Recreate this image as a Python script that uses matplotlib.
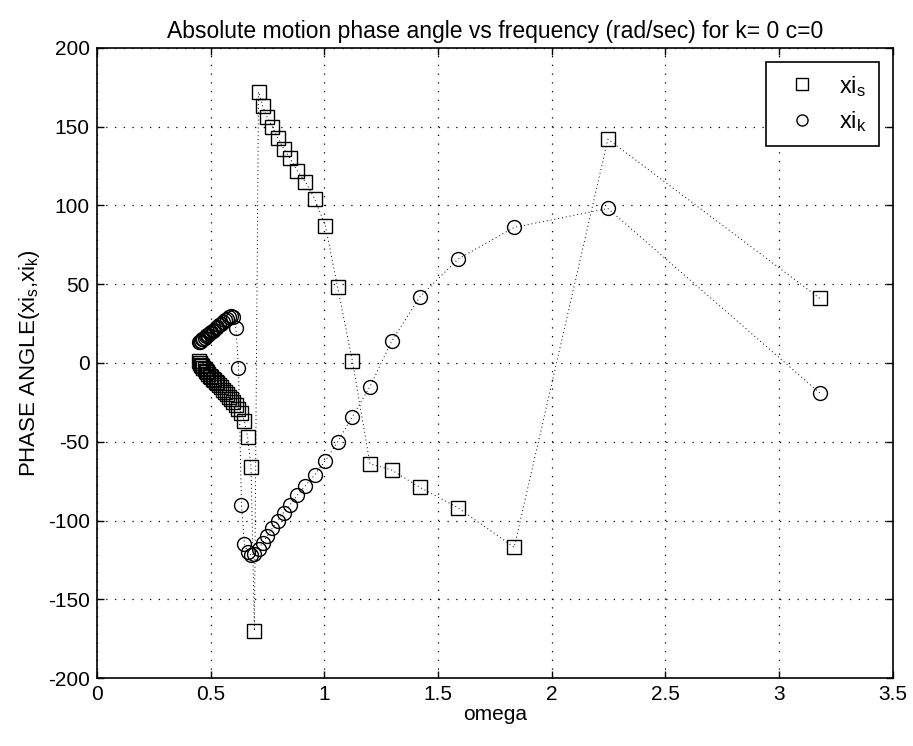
import matplotlib
matplotlib.use("Agg")
import matplotlib.pyplot as plt

plt.rcParams['font.family'] = ['Liberation Sans', 'DejaVu Sans']
plt.rcParams['mathtext.default'] = 'regular'
plt.rcParams['axes.unicode_minus'] = False

# frequencies (rad/sec)
omega = [3.178, 2.247, 1.835, 1.589, 1.421, 1.297, 1.201, 1.124, 1.059, 1.005,
         0.958, 0.917, 0.881, 0.849, 0.821, 0.795, 0.771, 0.749, 0.729, 0.711,
         0.693, 0.678, 0.663, 0.649, 0.636, 0.623, 0.612, 0.601, 0.590, 0.580,
         0.571, 0.562, 0.553, 0.545, 0.537, 0.530, 0.522, 0.516, 0.509, 0.503,
         0.496, 0.490, 0.485, 0.479, 0.474, 0.469, 0.464, 0.459, 0.454, 0.449]

xi_s = [41, 142, -117, -92, -79, -68, -64, 1, 48, 87,
        104, 115, 122, 130, 136, 143, 150, 156, 163, 172,
        -170, -66, -47, -37, -32, -29, -27, -25, -23, -21.5,
        -20, -18.5, -17, -15.5, -14, -13, -12, -11, -10, -9,
        -8, -7, -6, -5, -4, -3, -2, -1, 0, 1]

xi_k = [-19, 98, 86, 66, 42, 14, -15, -34, -50, -62,
        -71, -78, -84, -90, -95, -100, -105, -110, -114, -118,
        -121, -122, -120, -115, -90, -3, 22, 29, 29.5, 29,
        28, 27, 26, 25, 24, 23, 22, 21, 20, 19.5,
        19, 18, 17.5, 17, 16, 15.5, 15, 14, 13.5, 13]

xticks = [0, 0.5, 1, 1.5, 2, 2.5, 3, 3.5]
xticklabels = ['0', '0.5', '1', '1.5', '2', '2.5', '3', '3.5']
yticks = [-200, -150, -100, -50, 0, 50, 100, 150, 200]

fig = plt.figure(figsize=(9.13, 7.46), dpi=100)
ax = fig.add_axes([0.106, 0.091, 0.872, 0.845])

ax.plot(omega, xi_s, linestyle=(0, (1, 3)), color='black', linewidth=0.7,
        marker='s', markersize=10, markerfacecolor='none', markeredgecolor='black',
        markeredgewidth=1.0, label='xi$_s$')
ax.plot(omega, xi_k, linestyle=(0, (1, 3)), color='black', linewidth=0.7,
        marker='o', markersize=10, markerfacecolor='none', markeredgecolor='black',
        markeredgewidth=1.0, label='xi$_k$')

ax.set_xlim(0, 3.5)
ax.set_ylim(-200, 200)
ax.set_xticks(xticks)
ax.set_xticklabels(xticklabels)
ax.set_yticks(yticks)
ax.tick_params(direction='in', top=True, right=True, labelsize=15, length=5, width=1, pad=5)
ax.grid(True, color='black', linestyle=(0, (1, 6)), linewidth=0.9)
for s in ax.spines.values():
    s.set_linewidth(1.2)

ax.set_title('Absolute motion phase angle vs frequency (rad/sec) for k= 0 c=0',
             fontsize=16.5, pad=7)
ax.set_xlabel('omega', fontsize=15, labelpad=1)
ax.set_ylabel('PHASE ANGLE(xi$_s$,xi$_k$)', fontsize=16, labelpad=4)

leg = ax.legend(loc='upper right', fontsize=17, frameon=True, fancybox=False,
                edgecolor='black', framealpha=1, markerscale=0.8,
                handlelength=2.0, handletextpad=0.6, borderaxespad=0.6,
                labelspacing=0.45, borderpad=0.5)
leg.get_frame().set_linewidth(1.2)
for h in leg.get_lines():
    h.set_linestyle('None')

fig.savefig('out.png', dpi=100)
